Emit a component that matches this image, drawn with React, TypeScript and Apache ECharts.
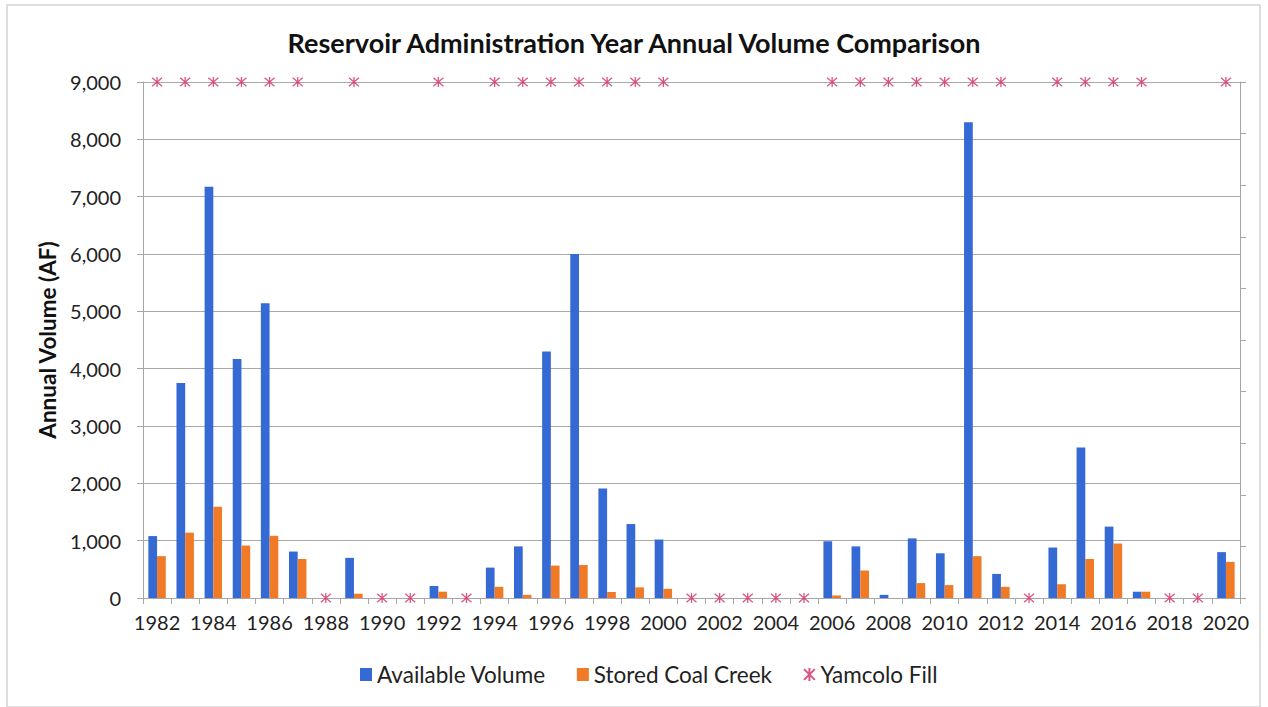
import React, { useEffect, useRef } from "react";
import * as echarts from "echarts";

// Water years shown on the category axis
const years = [
  "1982", "1983", "1984", "1985", "1986", "1987", "1988", "1989", "1990", "1991",
  "1992", "1993", "1994", "1995", "1996", "1997", "1998", "1999", "2000", "2001",
  "2002", "2003", "2004", "2005", "2006", "2007", "2008", "2009", "2010", "2011",
  "2012", "2013", "2014", "2015", "2016", "2017", "2018", "2019", "2020",
];

// Annual volumes in acre-feet
const availableVolume = [
  1080, 3750, 7175, 4170, 5140, 810, 0, 700, 0, 0,
  210, 0, 530, 900, 4300, 6000, 1910, 1290, 1020, 0,
  0, 0, 0, 0, 990, 900, 55, 1040, 780, 8300,
  420, 0, 880, 2625, 1245, 110, 0, 0, 800,
];

const storedCoalCreek = [
  730, 1140, 1590, 915, 1085, 680, 0, 75, 0, 0,
  110, 0, 195, 55, 565, 575, 105, 185, 160, 0,
  0, 0, 0, 0, 45, 480, 0, 260, 225, 730,
  195, 0, 240, 680, 950, 110, 0, 0, 630,
];

// 1 = Yamcolo filled that year, 0 = it did not (plotted on the secondary axis)
const yamcoloFill = [
  1, 1, 1, 1, 1, 1, 0, 1, 0, 0,
  1, 0, 1, 1, 1, 1, 1, 1, 1, 0,
  0, 0, 0, 0, 1, 1, 1, 1, 1, 1,
  1, 0, 1, 1, 1, 1, 0, 0, 1,
];

const FONT = "Lato, 'Noto Sans', sans-serif";
const BLUE = "#3569d4";
const ORANGE = "#f07a26";
const STAR = "#d42a5e";
const STAR_SYMBOL = "path://M0,0L10,10M10,0L0,10M5,-1L5,11";

export default function App() {
  const ref = useRef<HTMLDivElement>(null);

  useEffect(() => {
    document.body.style.margin = "0";
    if (!ref.current) return;
    const chart = echarts.init(ref.current, undefined, { renderer: "svg" });

    chart.setOption({
      animation: false,
      backgroundColor: "#ffffff",
      textStyle: { fontFamily: FONT },
      title: {
        text: "Reservoir Administration Year Annual Volume Comparison",
        left: "center",
        top: 24,
        textStyle: { fontFamily: FONT, fontSize: 27, fontWeight: "bold", color: "#111" },
      },
      graphic: [
        {
          type: "rect",
          shape: { x: 7, y: 5, width: 1253, height: 702 },
          style: { fill: "none", stroke: "#d4d4d4", lineWidth: 1.5 },
          silent: true,
        },
      ],
      legend: {
        bottom: 16,
        left: 355,
        itemWidth: 12,
        itemHeight: 13,
        itemGap: 31,
        textStyle: { fontFamily: FONT, fontSize: 22.5, color: "#222" },
        data: [
          { name: "Available Volume", icon: "rect" },
          { name: "Stored Coal Creek", icon: "rect" },
          { name: "Yamcolo Fill", icon: STAR_SYMBOL },
        ],
      },
      grid: { left: 143, right: 28, top: 82, bottom: 109 },
      xAxis: {
        type: "category",
        data: years,
        boundaryGap: true,
        axisLine: { lineStyle: { color: "#a6a6a6", width: 1 } },
        axisTick: { show: true, interval: 0, length: 6, lineStyle: { color: "#a6a6a6" } },
        axisLabel: { interval: 1, fontSize: 20, color: "#222", margin: 14, fontFamily: FONT },
      },
      yAxis: [
        {
          type: "value",
          min: 0,
          max: 9000,
          interval: 1000,
          name: "Annual Volume (AF)",
          nameLocation: "middle",
          nameGap: 83,
          nameTextStyle: { fontFamily: FONT, fontSize: 22.5, fontWeight: "bold", color: "#111" },
          axisLine: { show: true, lineStyle: { color: "#a6a6a6" } },
          axisTick: { show: true, length: 6, inside: false, lineStyle: { color: "#a6a6a6" } },
          axisLabel: {
            fontSize: 20,
            color: "#222",
            margin: 22,
            fontFamily: FONT,
            formatter: (v: number) => v.toLocaleString("en-US"),
          },
          splitLine: { show: true, lineStyle: { color: "#a9a9a9", width: 1 } },
        },
        {
          type: "value",
          min: 0,
          max: 1,
          interval: 0.1,
          position: "right",
          axisLine: { show: true, lineStyle: { color: "#a6a6a6" } },
          axisTick: { show: true, length: 6, lineStyle: { color: "#a6a6a6" } },
          axisLabel: { show: false },
          splitLine: { show: false },
        },
      ],
      series: [
        {
          name: "Available Volume",
          type: "bar",
          data: availableVolume,
          barGap: "0%",
          barCategoryGap: "38%",
          itemStyle: { color: BLUE },
        },
        {
          name: "Stored Coal Creek",
          type: "bar",
          data: storedCoalCreek,
          itemStyle: { color: ORANGE },
        },
        {
          name: "Yamcolo Fill",
          type: "scatter",
          yAxisIndex: 1,
          data: yamcoloFill,
          symbol: STAR_SYMBOL,
          symbolSize: 10,
          itemStyle: { color: "rgba(0,0,0,0)", borderColor: STAR, borderWidth: 1.3 },
          z: 5,
        },
      ],
    });

    return () => chart.dispose();
  }, []);

  return <div ref={ref} style={{ width: 1268, height: 707 }} />;
}
